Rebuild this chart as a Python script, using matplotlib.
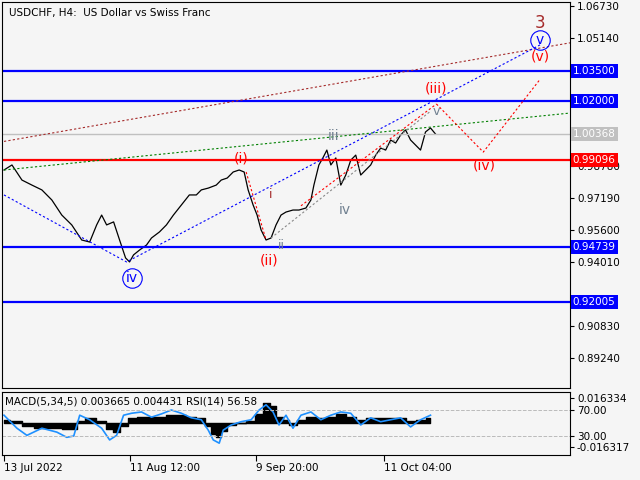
import matplotlib
matplotlib.use("Agg")
import matplotlib.pyplot as plt
import numpy as np

# price path (bar position, close)
bars = [2,10,20,30,40,50,60,70,80,88,95,100,105,112,118,124,128,132,138,145,150,158,165,172,180,188,195,200,207,215,220,226,232,238,243,247,252,256,260,265,270,275,280,285,292,298,305,310,313,318,322,326,330,335,340,345,350,355,360,365,370,375,380,385,390,395,400,405,410,415,420,425,430,435]
close = [0.9858,0.9883,0.9808,0.9783,0.9759,0.9709,0.9634,0.9585,0.9510,0.9500,0.9585,0.9634,0.9585,0.9600,0.9510,0.9421,0.9401,0.9436,0.9460,0.9485,0.9520,0.9550,0.9585,0.9634,0.9684,0.9734,0.9734,0.9759,0.9768,0.9783,0.9808,0.9818,0.9848,0.9858,0.9848,0.9759,0.9684,0.9634,0.9560,0.9510,0.9520,0.9585,0.9634,0.9649,0.9659,0.9659,0.9669,0.9709,0.9783,0.9883,0.9918,0.9957,0.9883,0.9918,0.9783,0.9833,0.9907,0.9932,0.9833,0.9858,0.9883,0.9932,0.9967,0.9957,1.0007,0.9992,1.0032,1.0057,1.0007,0.9982,0.9957,1.0047,1.0067,1.0037]
ind_x = [2,15,25,40,55,65,72,78,88,100,108,115,122,130,140,150,160,170,180,190,200,207,212,218,222,230,240,250,258,265,272,278,285,292,300,310,320,330,340,350,360,370,380,390,400,410,420,430]
rsi = [62,42,31,42,36,28,30,62,55,42,24,31,62,65,67,59,64,70,65,58,55,39,24,19,39,47,52,55,70,78,67,47,62,42,62,67,55,62,67,65,47,58,52,55,58,44,55,62]
macd = [0.002,0.001,-0.002,-0.003,-0.003,-0.004,-0.004,0.001,0.003,0.001,-0.004,-0.006,-0.002,0.003,0.004,0.004,0.004,0.005,0.005,0.004,0.003,-0.002,-0.007,-0.009,-0.005,-0.001,0.0,0.001,0.006,0.013,0.011,0.004,0.002,-0.001,0.002,0.004,0.003,0.004,0.006,0.004,0.002,0.003,0.003,0.003,0.003,0.001,0.002,0.003]
yticks = [1.06730,1.05140,0.98780,0.97190,0.95600,0.94010,0.90830,0.89240]
levels = [1.03500,1.02000,0.99096,0.94739,0.92005]
level_colors = ['#0000ff','#0000ff','#ff0000','#0000ff','#0000ff']
last_price = 1.00368
date_pos = [2,128,255,383]
date_labels = ['13 Jul 2022','11 Aug 12:00','9 Sep 20:00','11 Oct 04:00']

bg = '#f5f5f5'
fig = plt.figure(figsize=(6.4,4.8), dpi=100, facecolor=bg)
ax = fig.add_axes([2/640, 1-388/480, 568/640, 386/480], facecolor=bg)
ax.set_xlim(0,570); ax.set_ylim(0.87744,1.0693)
fs = 7.5
ax.plot(bars, close, color='black', lw=0.9)
for lv, c in zip(levels, level_colors):
    ax.axhline(lv, color=c, lw=1.6)
    ax.text(1.005, lv, f'{lv:.5f}', transform=ax.get_yaxis_transform(), color='white', fontsize=fs,
            va='center', ha='left', bbox=dict(facecolor=c, edgecolor='none', pad=1.5))
ax.axhline(last_price, color='#c0c0c0', lw=1)
ax.text(1.005, last_price, f'{last_price:.5f}', transform=ax.get_yaxis_transform(), color='white', fontsize=fs,
        va='center', ha='left', bbox=dict(facecolor='#c0c0c0', edgecolor='none', pad=1.5))
# trend lines
ax.plot([2,570],[1.00, 1.0490], ls=(0,(2,2)), color='#a52a2a', lw=0.8)
ax.plot([2,570],[0.9858, 1.0141], ls=(0,(2,2)), color='#008000', lw=0.8)
ax.plot([2,125,540],[0.9734,0.9401,1.0480], ls=(0,(2,2)), color='#0000ff', lw=0.8)
ax.plot([436,483,540],[1.0186,0.9947,1.0309], ls=(0,(2,2)), color='#ff0000', lw=0.8)
ax.plot([245,265],[0.9848,0.9510], ls=(0,(2,2)), color='#ff0000', lw=0.8)
ax.plot([270,430],[0.9520,1.0150], ls=(0,(2,2)), color='#888888', lw=0.8)
ax.plot([300,436],[0.9680,1.0186], ls=(0,(2,2)), color='#ff0000', lw=0.8)
# wave labels
def lab(x,y,s,c,size=10):
    ax.text(x,y,s,color=c,fontsize=size,ha='center',va='center')
lab(240,0.9915,'(i)','#ff0000'); lab(268,0.9410,'(ii)','#ff0000')
lab(436,1.0263,'(iii)','#ff0000'); lab(484,0.9882,'(iv)','#ff0000')
lab(540,1.0420,'(v)','#ff0000'); lab(540,1.0590,'3','#a52a2a',12)
lab(540,1.0505,'v','#0000ff'); lab(130,0.9320,'iv','#0000ff')
ax.add_patch(plt.Circle((540,1.0505),0.0,fill=False))
ax.plot([540],[1.0505],'o',ms=14,mfc='none',mec='#0000ff',mew=0.8)
ax.plot([130],[0.9320],'o',ms=14,mfc='none',mec='#0000ff',mew=0.8)
lab(333,1.0027,'iii','#708090'); lab(344,0.9660,'iv','#708090')
lab(270,0.9734,'i','#a52a2a',9); lab(280,0.9485,'ii','#708090',9); lab(436,1.0150,'v','#708090',9)
ax.text(0.012,0.985,'USDCHF, H4:  US Dollar vs Swiss Franc',transform=ax.transAxes,fontsize=fs,va='top')
ax.set_xticks([]); ax.yaxis.tick_right(); ax.set_yticks(yticks)
ax.set_yticklabels([f'{t:.5f}' for t in yticks], fontsize=fs)
ax.tick_params(axis='y', length=3, pad=2)

ai = fig.add_axes([2/640, 1-455/480, 568/640, 63/480], facecolor=bg)
ai.set_xlim(0,570); ai.set_ylim(0.8,97.7)
scale = 38.5/0.016334
ai.fill_between(ind_x, 50, 50+np.array(macd)*scale, color='black', step='mid')
ai.plot(ind_x, rsi, color='#1e90ff', lw=1.2)
ai.axhline(70, color='#bbbbbb', ls='--', lw=0.7); ai.axhline(30, color='#bbbbbb', ls='--', lw=0.7)
ai.text(0.005,0.93,'MACD(5,34,5) 0.003665 0.004431 RSI(14) 56.58',transform=ai.transAxes,fontsize=fs,va='top')
ai.yaxis.tick_right()
ai.set_yticks([88.5,70,30,13.0]); ai.set_yticklabels(['0.016334','70.00','30.00','-0.016317'], fontsize=fs)
ai.tick_params(axis='y', length=3, pad=2)
ai.set_xticks(date_pos); ai.set_xticklabels(date_labels, fontsize=fs, ha='left')
ai.tick_params(axis='x', length=4, pad=2)
fig.savefig('out.png', dpi=100, facecolor=bg)
